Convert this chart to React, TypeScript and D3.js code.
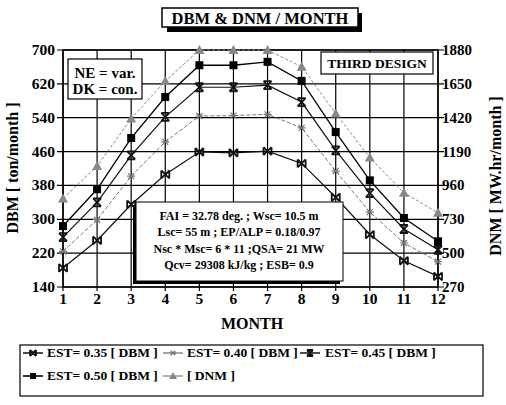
import * as d3 from 'd3';

// values
const months = [1, 2, 3, 4, 5, 6, 7, 8, 9, 10, 11, 12];
const est35 = [185, 250, 335, 406, 459, 457, 461, 432, 352, 264, 202, 165];
const est40 = [224, 299, 402, 483, 544, 545, 548, 516, 414, 317, 244, 200];
const est45 = [258, 340, 451, 542, 612, 612, 617, 577, 463, 362, 277, 228];
const est50 = [284, 371, 492, 589, 664, 664, 672, 627, 506, 392, 303, 248];
const dnm = [872, 1092, 1414, 1669, 1880, 1880, 1880, 1766, 1449, 1149, 910, 774];

const leftTicks = [140, 220, 300, 380, 460, 540, 620, 700];
const rightTicks = [270, 500, 730, 960, 1190, 1420, 1650, 1880];

const infoLines = [
  'FAI = 32.78 deg. ; Wsc= 10.5 m',
  'Lsc= 55 m ; EP/ALP = 0.18/0.97',
  'Nsc * Msc= 6 * 11 ;QSA= 21 MW',
  'Qcv= 29308 kJ/kg ; ESB= 0.9',
];

const W = 506;
const H = 405;
const font = "'Liberation Serif', 'DejaVu Serif', serif";

type Marker = 'bowtie' | 'star' | 'hourglass' | 'square' | 'triangle';

const Mark = ({ kind, x, y, color, s = 4 }: { kind: Marker; x: number; y: number; color: string; s?: number }) => {
  if (kind === 'square') {
    return <rect x={x - s} y={y - s} width={2 * s} height={2 * s} fill={color} />;
  }
  if (kind === 'triangle') {
    return (
      <path
        d={`M${x},${y - s - 1}L${x + s + 1},${y + s}L${x - s - 1},${y + s}Z`}
        fill={color}
      />
    );
  }
  if (kind === 'star') {
    const k = s * 0.75;
    return (
      <path
        d={`M${x - k},${y - k}L${x + k},${y + k}M${x - k},${y + k}L${x + k},${y - k}M${x - s},${y}L${x + s},${y}`}
        stroke={color}
        strokeWidth={1.2}
      />
    );
  }
  if (kind === 'bowtie') {
    return (
      <path
        d={`M${x - s},${y - s}L${x + s},${y + s}M${x - s},${y + s}L${x + s},${y - s}M${x - s},${y - s}L${x - s},${y + s}M${x + s},${y - s}L${x + s},${y + s}`}
        stroke={color}
        strokeWidth={1.8}
      />
    );
  }
  return (
    <path
      d={`M${x - s},${y - s}L${x + s},${y + s}M${x - s},${y + s}L${x + s},${y - s}M${x - s},${y - s}L${x + s},${y - s}M${x - s},${y + s}L${x + s},${y + s}`}
      stroke={color}
      strokeWidth={1.8}
    />
  );
};

export default function App() {
  const x = d3.scaleLinear().domain([1, 12]).range([63, 438]);
  const yL = d3.scaleLinear().domain([140, 700]).range([287, 50]);
  const yR = d3.scaleLinear().domain([270, 1880]).range([287, 50]);

  const series = [
    { name: 'EST= 0.35 [ DBM ]', values: est35, y: yL, color: '#111', width: 1.2, dash: undefined, marker: 'bowtie' as Marker },
    { name: 'EST= 0.40 [ DBM ]', values: est40, y: yL, color: '#777', width: 1, dash: '4,2', marker: 'star' as Marker },
    { name: 'EST= 0.45 [ DBM ]', values: est45, y: yL, color: '#111', width: 1.2, dash: undefined, marker: 'hourglass' as Marker },
    { name: 'EST= 0.50 [ DBM ]', values: est50, y: yL, color: '#000', width: 1.3, dash: undefined, marker: 'square' as Marker },
    { name: '[ DNM ]', values: dnm, y: yR, color: '#888', width: 1, dash: '3,2', marker: 'triangle' as Marker },
  ];

  const legendPos = [
    { ix: 23, tx: 47, ty: 357 },
    { ix: 163, tx: 187, ty: 357 },
    { ix: 300, tx: 325, ty: 357 },
    { ix: 23, tx: 47, ty: 380 },
    { ix: 163, tx: 187, ty: 380 },
  ];

  return (
    <div style={{ position: 'absolute', left: 0, top: 0 }}>
      <svg width={W} height={H} style={{ display: 'block', background: '#fff', fontFamily: font, fontWeight: 'bold' }}>
        {/* title */}
        <rect x={167} y={13} width={195} height={19} fill="#000" />
        <rect x={162} y={8} width={196} height={19} fill="#fff" stroke="#000" strokeWidth={1.5} />
        <text x={260} y={23.5} textAnchor="middle" fontSize={16.5}>DBM &amp; DNM / MONTH</text>

        {/* grid */}
        {months.map((m) => (
          <line key={'v' + m} x1={x(m)} x2={x(m)} y1={50} y2={291} stroke="#000" strokeWidth={1.2} />
        ))}
        {leftTicks.map((t) => (
          <line key={'h' + t} x1={57} x2={444} y1={yL(t)} y2={yL(t)} stroke="#000" strokeWidth={1.2} />
        ))}
        <rect x={63} y={50} width={375} height={237} fill="none" stroke="#000" strokeWidth={1.5} />

        {/* tick labels */}
        {leftTicks.map((t) => (
          <text key={'l' + t} x={55} y={yL(t) + 5} textAnchor="end" fontSize={15.5}>{t}</text>
        ))}
        {rightTicks.map((t) => (
          <text key={'r' + t} x={442} y={yR(t) + 5} fontSize={15}>{t}</text>
        ))}
        {months.map((m) => (
          <text key={'m' + m} x={x(m)} y={304} textAnchor="middle" fontSize={15.5}>{m}</text>
        ))}

        {/* axis titles */}
        <text transform="translate(18,168) rotate(-90)" textAnchor="middle" fontSize={16}>DBM [ ton/month ]</text>
        <text transform="translate(501,176) rotate(-90)" textAnchor="middle" fontSize={16}>DNM [ MW.hr/month ]</text>
        <text x={252} y={329} textAnchor="middle" fontSize={16}>MONTH</text>

        {/* series */}
        {series.map((s) => {
          const line = d3
            .line<number>()
            .x((_, i) => x(months[i]))
            .y((v) => s.y(v));
          return (
            <g key={s.name}>
              <path d={line(s.values) ?? undefined} fill="none" stroke={s.color} strokeWidth={s.width} strokeDasharray={s.dash} />
              {s.values.map((v, i) => (
                <Mark key={i} kind={s.marker} x={x(months[i])} y={s.y(v)} color={s.color} />
              ))}
            </g>
          );
        })}

        {/* NE / DK box */}
        <rect x={68} y={59} width={74} height={40} fill="#fff" stroke="#000" strokeWidth={1.2} />
        <text x={105} y={78} textAnchor="middle" fontSize={15}>NE = var.</text>
        <text x={105} y={94} textAnchor="middle" fontSize={15}>DK = con.</text>

        {/* third design box */}
        <rect x={321} y={52} width={112} height={22} fill="#fff" stroke="#000" strokeWidth={1.2} />
        <text x={377} y={67.5} textAnchor="middle" fontSize={13.5}>THIRD DESIGN</text>

        {/* info box */}
        <rect x={133} y={205} width={207} height={79} fill="#000" />
        <rect x={136} y={202} width={207} height={79} fill="#fff" stroke="#000" strokeWidth={1} />
        {infoLines.map((t, i) => (
          <text key={t} x={239} y={220 + i * 16.3} textAnchor="middle" fontSize={12}>{t}</text>
        ))}

        {/* legend */}
        <rect x={20} y={345} width={463} height={51} fill="#fff" stroke="#000" strokeWidth={1.2} />
        {series.map((s, i) => {
          const p = legendPos[i];
          return (
            <g key={'lg' + s.name}>
              <line x1={p.ix} x2={p.ix + 20} y1={p.ty - 4} y2={p.ty - 4} stroke={s.color} strokeWidth={s.width + 0.3} />
              <Mark kind={s.marker} x={p.ix + 10} y={p.ty - 4} color={s.color} s={3} />
              <text x={p.tx} y={p.ty} fontSize={13.5}>{s.name}</text>
            </g>
          );
        })}
      </svg>
    </div>
  );
}
